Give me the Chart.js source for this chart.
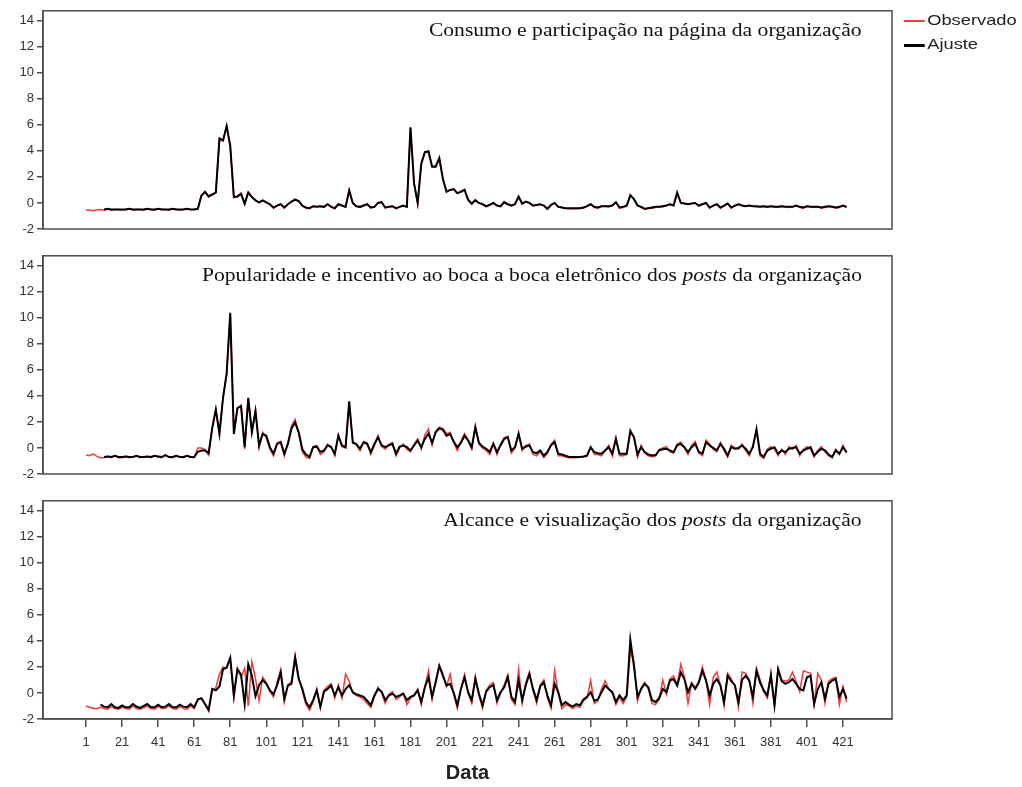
<!DOCTYPE html>
<html>
<head>
<meta charset="utf-8">
<script src="https://cdn.jsdelivr.net/npm/chart.js@4.4.1/dist/chart.umd.min.js"></script>
<style>
body { margin: 0; background: #fff; width: 1022px; height: 787px; position: relative; overflow: hidden; font-family: "Liberation Sans", Arial, sans-serif; }
canvas { position: absolute; left: 0; }
.titulo { position: absolute; right: 160px; font-family: "Liberation Serif", "Times New Roman", serif; font-size: 18px; color: #111; white-space: nowrap; line-height: 20px; transform: scaleX(1.2); transform-origin: right center; }
.leg { position: absolute; left: 904px; font-size: 15px; color: #222; line-height: 18px; white-space: nowrap; transform: scaleX(1.22); transform-origin: left center; }
.leg span { display: inline-block; width: 17px; vertical-align: middle; margin-right: 2px; }
</style>
</head>
<body>
<canvas id="painel1" width="1022" height="240" style="top:0"></canvas>
<canvas id="painel2" width="1022" height="240" style="top:245px"></canvas>
<canvas id="painel3" width="1022" height="297" style="top:490px"></canvas>

<div class="titulo" style="top:20px">Consumo e participação na página da organização</div>
<div class="titulo" style="top:265px">Popularidade e incentivo ao boca a boca eletrônico dos <i>posts</i> da organização</div>
<div class="titulo" style="top:510px">Alcance e visualização dos <i>posts</i> da organização</div>

<div class="leg" style="top:11px"><span style="background:#ee3b3b;height:2px"></span>Observado</div>
<div class="leg" style="top:35px"><span style="background:#000;height:3px"></span>Ajuste</div>

<script>
// uma observação a cada 2 dias: dias 1, 3, 5, ..., 423
const xTicks = [1, 21, 41, 61, 81, 101, 121, 141, 161, 181, 201, 221, 241, 261, 281, 301, 321, 341, 361, 381, 401, 421];
const yTicks = [-2, 0, 2, 4, 6, 8, 10, 12, 14];

const obs1 = [
  -0.55,-0.55,-0.6,-0.55,-0.5,-0.55,-0.45,-0.55,-0.5,-0.5,
  -0.55,-0.5,-0.45,-0.55,-0.5,-0.5,-0.55,-0.45,-0.5,-0.55,
  -0.45,-0.5,-0.5,-0.55,-0.45,-0.5,-0.55,-0.5,-0.45,-0.5,
  -0.5,-0.45,0.6,0.85,0.45,0.6,0.8,4.8,4.8,5.9,
  4.3,0.4,0.5,0.75,-0.1,0.85,0.45,0.2,0.0,0.2,
  0.05,-0.1,-0.4,-0.2,-0.1,-0.4,-0.1,0.1,0.3,0.15,
  -0.25,-0.4,-0.45,-0.25,-0.3,-0.25,-0.35,-0.1,-0.3,-0.45,
  -0.1,-0.2,-0.3,1.0,-0.05,-0.25,-0.35,-0.2,-0.1,-0.4,
  -0.3,0.0,0.1,-0.4,-0.3,-0.25,-0.45,-0.3,-0.2,-0.3,
  5.75,1.5,-0.05,3.1,3.87,4.0,2.74,2.74,3.4,1.8,
  0.9,1.0,1.1,0.75,0.9,1.05,0.2,-0.1,0.25,0.0,
  -0.1,-0.3,-0.15,0.0,-0.2,-0.3,0.1,-0.1,-0.25,-0.1,
  0.45,-0.1,0.1,0.0,-0.25,-0.15,-0.1,-0.2,-0.5,-0.2,
  0.0,-0.3,-0.35,-0.4,-0.45,-0.45,-0.45,-0.4,-0.4,-0.25,
  -0.1,-0.35,-0.4,-0.25,-0.25,-0.3,-0.2,0.05,-0.4,-0.35,
  -0.25,0.55,0.3,-0.2,-0.35,-0.5,-0.4,-0.4,-0.35,-0.3,
  -0.3,-0.2,-0.1,-0.2,0.75,0.0,-0.05,-0.1,-0.05,0.0,
  -0.25,-0.1,0.0,-0.4,-0.2,-0.1,-0.4,-0.2,-0.05,-0.4,
  -0.25,-0.1,-0.2,-0.25,-0.2,-0.25,-0.3,-0.3,-0.25,-0.35,
  -0.25,-0.3,-0.35,-0.25,-0.3,-0.35,-0.3,-0.2,-0.35,-0.4,
  -0.25,-0.3,-0.35,-0.3,-0.4,-0.35,-0.25,-0.3,-0.4,-0.35,
  -0.2,-0.35
];
const aju1 = [
  null,null,null,null,null,-0.5,-0.45,-0.5,-0.5,-0.5,
  -0.5,-0.5,-0.45,-0.5,-0.5,-0.5,-0.5,-0.45,-0.5,-0.5,
  -0.45,-0.5,-0.5,-0.5,-0.45,-0.5,-0.5,-0.5,-0.45,-0.5,
  -0.5,-0.45,0.55,0.85,0.5,0.65,0.8,4.95,4.8,5.9,
  4.4,0.45,0.5,0.7,-0.05,0.8,0.45,0.2,0.05,0.2,
  0.05,-0.1,-0.35,-0.2,-0.1,-0.35,-0.1,0.1,0.25,0.15,
  -0.2,-0.35,-0.4,-0.25,-0.3,-0.25,-0.3,-0.1,-0.3,-0.4,
  -0.1,-0.2,-0.3,0.95,0.0,-0.25,-0.3,-0.2,-0.1,-0.35,
  -0.3,0.0,0.05,-0.35,-0.3,-0.25,-0.4,-0.3,-0.2,-0.3,
  5.8,1.5,0.0,3.0,3.9,3.95,2.8,2.8,3.45,1.85,
  0.85,1.0,1.05,0.75,0.85,1.0,0.25,-0.05,0.2,0.0,
  -0.1,-0.25,-0.15,0.0,-0.2,-0.25,0.05,-0.1,-0.2,-0.1,
  0.5,-0.05,0.1,0.0,-0.2,-0.15,-0.1,-0.2,-0.45,-0.15,
  0.0,-0.3,-0.35,-0.4,-0.4,-0.4,-0.4,-0.4,-0.35,-0.25,
  -0.1,-0.3,-0.35,-0.25,-0.25,-0.25,-0.2,0.05,-0.35,-0.3,
  -0.2,0.6,0.3,-0.2,-0.3,-0.45,-0.4,-0.35,-0.3,-0.3,
  -0.25,-0.2,-0.1,-0.2,0.8,0.0,-0.05,-0.1,-0.05,0.0,
  -0.2,-0.1,0.0,-0.35,-0.2,-0.1,-0.35,-0.2,-0.05,-0.35,
  -0.2,-0.1,-0.2,-0.25,-0.2,-0.25,-0.25,-0.3,-0.25,-0.3,
  -0.25,-0.3,-0.3,-0.25,-0.3,-0.3,-0.3,-0.2,-0.3,-0.35,
  -0.25,-0.3,-0.3,-0.3,-0.35,-0.3,-0.25,-0.3,-0.35,-0.3,
  -0.2,-0.3
];

const obs2 = [
  -0.55,-0.6,-0.45,-0.65,-0.75,-0.75,-0.65,-0.75,-0.6,-0.75,
  -0.75,-0.65,-0.75,-0.7,-0.6,-0.75,-0.7,-0.65,-0.75,-0.6,
  -0.7,-0.75,-0.55,-0.7,-0.75,-0.6,-0.7,-0.75,-0.6,-0.7,
  -0.75,0.0,0.0,-0.1,-0.55,1.6,2.9,1.0,3.9,5.6,
  10.2,1.2,3.0,3.3,-0.1,3.7,1.3,2.9,0.0,1.2,
  0.8,-0.1,-0.6,0.4,0.5,-0.6,0.4,1.7,2.2,1.1,
  -0.3,-0.7,-0.8,0.1,0.2,-0.5,-0.3,0.3,0.1,-0.6,
  1.0,0.1,0.0,3.4,0.5,0.2,-0.2,0.5,0.4,-0.5,
  0.2,0.95,0.1,-0.1,0.3,0.4,-0.6,0.0,0.3,-0.1,
  -0.3,0.3,0.7,-0.1,1.0,1.45,0.2,1.3,1.6,1.5,
  1.1,1.2,0.4,-0.2,0.5,1.1,0.6,-0.1,1.7,0.3,
  0.0,-0.2,-0.5,0.4,-0.5,0.3,0.8,0.9,-0.4,0.0,
  1.2,-0.2,0.2,0.3,-0.5,-0.6,-0.3,-0.75,-0.4,0.3,
  0.6,-0.6,-0.6,-0.7,-0.75,-0.75,-0.75,-0.7,-0.7,-0.65,
  0.1,-0.5,-0.5,-0.6,-0.2,0.2,-0.6,0.8,-0.6,-0.6,
  -0.5,1.2,0.9,-0.7,0.2,-0.4,-0.6,-0.7,-0.6,-0.1,
  0.0,0.1,-0.3,-0.4,0.3,0.45,0.0,-0.5,0.2,0.5,
  -0.4,-0.6,0.6,0.3,-0.1,-0.3,0.4,-0.2,-0.7,0.2,
  0.0,-0.1,0.3,-0.2,-0.6,0.2,1.3,-0.6,-0.8,-0.1,
  0.1,-0.1,-0.6,-0.1,-0.5,0.1,-0.1,0.2,-0.6,-0.1,
  0.1,-0.1,-0.7,-0.2,0.1,-0.3,-0.6,-0.75,-0.1,-0.5,
  0.2,-0.4
];
const aju2 = [
  null,null,null,null,null,-0.7,-0.65,-0.7,-0.6,-0.7,
  -0.7,-0.65,-0.7,-0.7,-0.6,-0.7,-0.7,-0.65,-0.7,-0.6,
  -0.65,-0.7,-0.55,-0.7,-0.7,-0.6,-0.7,-0.7,-0.6,-0.7,
  -0.7,-0.3,-0.2,-0.2,-0.4,1.5,2.96,1.1,3.84,5.72,
  10.38,1.07,3.08,3.2,0.06,3.84,1.2,2.83,0.19,1.07,
  0.94,0.06,-0.44,0.31,0.44,-0.44,0.31,1.5,1.95,1.2,
  -0.1,-0.5,-0.69,0.06,0.1,-0.3,-0.2,0.2,0.06,-0.44,
  0.94,0.19,0.06,3.58,0.4,0.3,-0.06,0.44,0.3,-0.32,
  0.3,0.82,0.2,0.06,0.2,0.31,-0.44,0.1,0.19,0.06,
  -0.19,0.19,0.57,0.06,0.7,1.1,0.4,1.2,1.5,1.4,
  0.94,1.07,0.5,0.06,0.4,0.94,0.57,0.06,1.57,0.4,
  0.1,-0.06,-0.3,0.31,-0.32,0.2,0.69,0.82,-0.19,0.06,
  1.07,-0.06,0.1,0.19,-0.32,-0.4,-0.19,-0.6,-0.3,0.2,
  0.44,-0.44,-0.5,-0.6,-0.69,-0.69,-0.69,-0.69,-0.65,-0.57,
  0.06,-0.32,-0.4,-0.44,-0.19,0.06,-0.44,0.69,-0.44,-0.44,
  -0.44,1.32,0.82,-0.5,0.06,-0.32,-0.5,-0.57,-0.57,-0.19,
  -0.1,-0.06,-0.19,-0.32,0.2,0.31,0.06,-0.32,0.06,0.31,
  -0.3,-0.44,0.44,0.19,0.0,-0.19,0.31,-0.06,-0.57,0.06,
  -0.06,0.0,0.19,-0.06,-0.44,0.06,1.45,-0.44,-0.69,-0.2,
  -0.06,0.06,-0.44,-0.19,-0.32,-0.06,0.0,0.06,-0.44,-0.2,
  -0.06,0.06,-0.57,-0.3,-0.06,-0.19,-0.5,-0.69,-0.19,-0.44,
  0.06,-0.32
];

const obs3 = [
  -1.0,-1.1,-1.2,-1.2,-1.1,-1.2,-1.25,-1.05,-1.2,-1.25,
  -1.1,-1.2,-1.25,-1.0,-1.2,-1.25,-1.15,-1.0,-1.2,-1.25,
  -1.05,-1.2,-1.2,-1.0,-1.2,-1.25,-1.05,-1.2,-1.25,-1.0,
  -1.2,-0.5,-0.4,-0.9,-1.4,0.2,0.4,1.45,2.0,1.9,
  2.6,-0.4,1.9,1.2,1.9,-1.0,2.4,1.1,-0.6,1.2,
  0.8,0.1,-0.3,0.8,1.8,-0.7,0.6,0.9,2.9,1.2,
  0.2,-0.9,-1.3,-0.7,0.3,-1.2,0.2,0.5,0.7,-0.4,
  0.6,-0.4,1.45,0.9,0.0,-0.2,-0.3,-0.5,-0.8,-1.1,
  -0.3,0.45,0.0,-0.8,-0.1,0.1,-0.5,-0.3,0.0,-0.9,
  -0.4,-0.2,0.3,-0.9,0.5,1.7,-0.5,1.0,2.1,1.5,
  0.5,1.45,-0.1,-1.2,0.3,1.4,0.0,-0.8,1.3,-0.2,
  -1.2,0.2,0.6,0.8,-0.8,0.0,0.6,1.4,-0.5,-0.9,
  1.82,-0.8,0.8,1.6,0.2,-0.8,0.6,1.0,-0.4,-1.2,
  1.7,0.0,-1.2,-0.9,-1.0,-1.2,-1.0,-1.1,-0.6,-0.4,
  0.95,-0.8,-0.6,0.3,0.95,0.3,0.0,-0.9,-0.3,-0.8,
  -0.3,3.2,2.4,-0.6,0.4,0.8,0.3,-0.8,-0.9,-0.5,
  1.0,-0.1,1.1,1.3,0.6,2.2,1.2,-0.8,0.8,0.4,
  0.9,2.0,1.0,-0.9,1.2,1.6,0.6,-1.0,1.5,1.1,
  0.5,-1.1,1.6,1.5,1.0,-0.8,1.9,1.0,0.1,-0.4,
  1.6,-1.0,1.9,1.0,0.9,1.0,1.6,0.9,0.1,1.7,
  1.6,1.5,-0.9,1.5,1.0,-0.8,0.9,1.1,1.2,-0.9,
  0.5,-0.7
];
const aju3 = [
  null,null,null,null,-0.9,-1.05,-1.1,-0.85,-1.1,-1.15,
  -0.95,-1.1,-1.1,-0.85,-1.05,-1.15,-1.0,-0.85,-1.1,-1.1,
  -0.9,-1.1,-1.05,-0.85,-1.1,-1.1,-0.9,-1.05,-1.1,-0.85,
  -1.1,-0.5,-0.4,-0.85,-1.3,0.31,0.2,0.5,1.82,1.95,
  2.7,-0.19,1.82,1.4,-0.85,2.2,1.32,-0.25,0.6,1.0,
  0.7,0.2,-0.1,0.6,1.57,-0.44,0.57,0.7,2.7,1.07,
  0.31,-0.69,-1.1,-0.55,0.2,-1.05,0.1,0.31,0.57,-0.19,
  0.44,-0.19,0.3,0.6,0.06,-0.1,-0.2,-0.3,-0.6,-0.94,
  -0.19,0.31,0.1,-0.55,-0.2,-0.06,-0.3,-0.19,-0.06,-0.55,
  -0.3,-0.19,0.2,-0.69,0.44,1.2,-0.3,0.8,2.08,1.32,
  0.57,0.7,0.0,-0.94,0.31,1.2,0.06,-0.55,1.07,-0.06,
  -0.94,0.1,0.44,0.6,-0.55,0.06,0.44,1.2,-0.3,-0.69,
  0.95,-0.55,0.6,1.45,0.31,-0.55,0.5,0.82,-0.2,-0.94,
  0.7,0.06,-0.94,-0.7,-0.9,-1.05,-0.85,-0.94,-0.5,-0.3,
  0.06,-0.6,-0.5,0.06,0.57,0.3,0.06,-0.69,-0.19,-0.55,
  -0.19,4.09,2.08,-0.3,0.3,0.7,0.44,-0.55,-0.69,-0.4,
  0.3,0.06,0.95,1.07,0.57,1.57,1.07,0.06,0.7,0.31,
  0.8,1.7,0.95,-0.19,0.7,1.07,0.57,-0.69,1.32,0.9,
  0.6,-0.69,1.0,1.32,0.95,-0.3,1.7,0.8,0.2,-0.19,
  1.32,-0.94,1.82,0.9,0.7,0.82,1.07,0.7,0.3,0.2,
  1.2,1.32,-0.85,0.3,0.82,-0.44,0.7,0.95,1.07,-0.3,
  0.31,-0.44
];

const dias = obs1.map((_, i) => 1 + 2 * i);

function pontos(valores) {
  return valores.map((v, i) => ({ x: dias[i], y: v }));
}

const moldura = {
  id: 'moldura',
  afterDraw(chart) {
    const { ctx, chartArea: a } = chart;
    ctx.save();
    ctx.strokeStyle = '#4d4d4d';
    ctx.lineWidth = 1.5;
    ctx.strokeRect(a.left, a.top, a.right - a.left, a.bottom - a.top);
    ctx.restore();
  }
};

const fonteEixo = { family: 'Liberation Sans', size: 13 };

function criarPainel(id, obs, aju, comEixoX) {
  const eixoX = comEixoX ? {
    type: 'linear', min: -22.9, max: 448.2,
    afterBuildTicks(s) { s.ticks = xTicks.map(v => ({ value: v })); },
    afterFit(s) { s.height = 68; },
    ticks: { color: '#333', font: fonteEixo, padding: 8, maxRotation: 0, autoSkip: false },
    grid: { drawOnChartArea: false, tickLength: 8, color: '#4d4d4d', lineWidth: 1.5 },
    border: { color: '#4d4d4d', width: 1.5 },
    title: { display: true, text: 'Data', color: '#222', font: { family: 'Liberation Sans', size: 20, weight: 'bold' }, padding: { top: 0, bottom: 2 } }
  } : { type: 'linear', min: -22.9, max: 448.2, display: false };

  return new Chart(document.getElementById(id), {
    type: 'line',
    data: {
      datasets: [
        { label: 'Ajuste', data: pontos(aju), borderColor: '#000', borderWidth: 2, pointRadius: 0, order: 1 },
        { label: 'Observado', data: pontos(obs), borderColor: '#ee3b3b', borderWidth: 1.5, pointRadius: 0, order: 2 }
      ]
    },
    options: {
      responsive: false,
      animation: false,
      layout: { padding: { top: 8, right: 130, bottom: comEixoX ? 0 : 11, left: 0 } },
      plugins: { legend: { display: false }, tooltip: { enabled: false } },
      scales: {
        x: eixoX,
        y: {
          min: -2, max: 14.75,
          afterFit(s) { s.width = 43; },
          afterBuildTicks(s) { s.ticks = yTicks.map(v => ({ value: v })); },
          ticks: { color: '#333', font: fonteEixo, padding: 3 },
          grid: { drawOnChartArea: false, tickLength: 6, color: '#4d4d4d', lineWidth: 1.5 },
          border: { color: '#4d4d4d', width: 1.5 }
        }
      }
    },
    plugins: [moldura]
  });
}

criarPainel('painel1', obs1, aju1, false);
criarPainel('painel2', obs2, aju2, false);
criarPainel('painel3', obs3, aju3, true);
</script>
</body>
</html>
